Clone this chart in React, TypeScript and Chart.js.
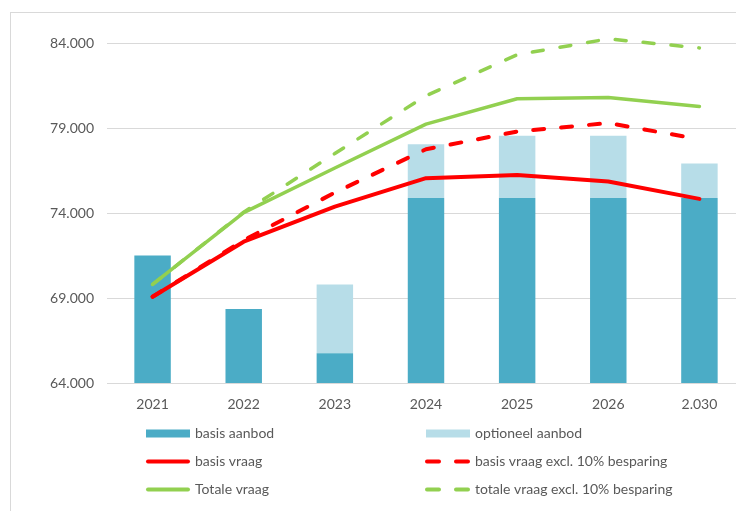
import React, { useEffect, useRef } from "react";
import { Chart, registerables } from "chart.js";

Chart.register(...registerables);

const categories = ["2021", "2022", "2023", "2024", "2025", "2026", "2.030"];
const basisAanbod = [71500, 68350, 65750, 74880, 74880, 74880, 74880];
const optioneelAanbod = [0, 0, 4050, 3170, 3660, 3660, 2030];
const basisVraag = [69070, 72310, 74370, 76050, 76240, 75850, 74830];
const basisVraagExcl = [69070, 72400, 75200, 77750, 78790, 79290, 78340];
const totaleVraag = [69800, 74020, 76650, 79230, 80720, 80800, 80270];
const totaleVraagExcl = [69800, 74050, 77500, 80900, 83310, 84240, 83710];
const yMin = 64000;
const yMax = 84000;
const yStep = 5000;

const FONT = "Lato";
const TEXT = "#595959";
const BLUE = "#4BACC6";
const LIGHT = "#B7DDE8";
const RED = "#FF0000";
const GREEN = "#92D050";

const fmt = (v: number) => String(Math.round(v)).replace(/\B(?=(\d{3})+(?!\d))/g, ".");

const legendPlugin = {
  id: "gridLegend",
  afterDraw(chart: any) {
    const ctx = chart.ctx as CanvasRenderingContext2D;
    const ds = chart.data.datasets;
    const layout = [
      [0, 1],
      [2, 3],
      [4, 5],
    ];
    const colX = [146, 426];
    const rowY = [433.5, 461.5, 489.5];
    ctx.save();
    ctx.font = `14px ${FONT}`;
    ctx.textBaseline = "middle";
    ctx.textAlign = "left";
    layout.forEach((row, r) => {
      row.forEach((idx, c) => {
        const d = ds[idx];
        const x = colX[c];
        const y = rowY[r];
        if (d.type === "bar") {
          ctx.fillStyle = d.backgroundColor;
          ctx.fillRect(x, y - 4, 44, 8);
        } else {
          ctx.strokeStyle = d.borderColor;
          ctx.lineWidth = 4;
          ctx.lineCap = "round";
          ctx.beginPath();
          if (d.borderDash && d.borderDash.length) {
            ctx.moveTo(x + 1, y);
            ctx.lineTo(x + 13, y);
            ctx.moveTo(x + 30, y);
            ctx.lineTo(x + 42, y);
          } else {
            ctx.moveTo(x + 2, y);
            ctx.lineTo(x + 42, y);
          }
          ctx.stroke();
        }
        ctx.fillStyle = TEXT;
        ctx.fillText(d.label, x + 49, y);
      });
    });
    ctx.restore();
  },
};

export default function App() {
  const ref = useRef<HTMLCanvasElement | null>(null);

  useEffect(() => {
    if (!ref.current) return;
    const lineCommon = {
      type: "line" as const,
      pointRadius: 0,
      pointHoverRadius: 0,
      tension: 0,
      fill: false,
      clip: false as any,
      borderCapStyle: "round" as const,
      borderJoinStyle: "round" as const,
    };
    const chart = new Chart(ref.current, {
      type: "bar",
      data: {
        labels: categories,
        datasets: [
          {
            type: "bar",
            label: "basis aanbod",
            data: basisAanbod,
            backgroundColor: BLUE,
            stack: "aanbod",
            order: 10,
            barPercentage: 0.4,
            categoryPercentage: 1,
          },
          {
            type: "bar",
            label: "optioneel aanbod",
            data: optioneelAanbod,
            backgroundColor: LIGHT,
            stack: "aanbod",
            order: 11,
            barPercentage: 0.4,
            categoryPercentage: 1,
          },
          {
            ...lineCommon,
            label: "basis vraag",
            data: basisVraag,
            borderColor: RED,
            borderWidth: 4,
            stack: "l1",
            order: 1,
          },
          {
            ...lineCommon,
            label: "basis vraag excl. 10% besparing",
            data: basisVraagExcl,
            borderColor: RED,
            borderWidth: 4,
            borderDash: [11, 17],
            stack: "l2",
            order: 3,
          },
          {
            ...lineCommon,
            label: "Totale vraag",
            data: totaleVraag,
            borderColor: GREEN,
            borderWidth: 3.5,
            stack: "l3",
            order: 2,
          },
          {
            ...lineCommon,
            label: "totale vraag excl. 10% besparing",
            data: totaleVraagExcl,
            borderColor: GREEN,
            borderWidth: 3.5,
            borderDash: [11, 17],
            stack: "l4",
            order: 4,
          },
        ] as any,
      },
      options: {
        responsive: false,
        animation: false,
        devicePixelRatio: 1,
        layout: { padding: { left: 0, right: 15, top: 43, bottom: 88 } },
        plugins: {
          legend: { display: false },
          tooltip: { enabled: false },
        },
        scales: {
          x: {
            stacked: true,
            grid: { display: false },
            border: { display: false },
            ticks: {
              color: TEXT,
              font: { family: FONT, size: 14 },
              padding: 5,
              maxRotation: 0,
              autoSkip: false,
            },
            afterFit: (s: any) => {
              s.height = 40;
            },
          },
          y: {
            stacked: true,
            min: yMin,
            max: yMax,
            grid: { color: "#D9D9D9", lineWidth: 1, drawTicks: false },
            border: { display: false },
            ticks: {
              stepSize: yStep,
              color: TEXT,
              font: { family: FONT, size: 14 },
              padding: 13,
              callback: (v: any) => fmt(Number(v)),
            },
            afterFit: (s: any) => {
              s.width = 107;
            },
          },
        },
      },
      plugins: [legendPlugin],
    });
    return () => chart.destroy();
  }, []);

  return (
    <div
      style={{
        position: "fixed",
        left: 0,
        top: 0,
        width: 736,
        height: 511,
        overflow: "hidden",
        background: "#fff",
      }}
    >
      <div
        style={{
          position: "absolute",
          left: 10,
          top: 12,
          width: 800,
          height: 600,
          border: "1px solid #D9D9D9",
        }}
      />
      <canvas
        ref={ref}
        width={760}
        height={511}
        style={{ position: "absolute", left: 0, top: 0, width: 760, height: 511 }}
      />
    </div>
  );
}
